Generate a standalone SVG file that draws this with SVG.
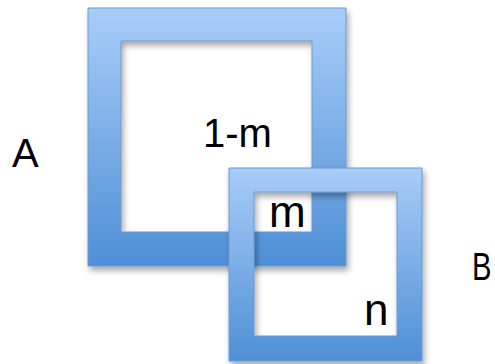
<svg xmlns="http://www.w3.org/2000/svg" width="495" height="364" viewBox="0 0 495 364">
  <defs>
    <linearGradient id="blueGrad" x1="0" y1="0" x2="0" y2="1">
      <stop offset="0" stop-color="#a8cdf8"/>
      <stop offset="1" stop-color="#4f8fd6"/>
    </linearGradient>
    <filter id="shadow" x="-10%" y="-10%" width="125%" height="125%">
      <feDropShadow dx="2" dy="4" stdDeviation="3" flood-color="#000" flood-opacity="0.35"/>
    </filter>
  </defs>
  <style>
    .frame { fill: url(#blueGrad); fill-rule: evenodd; stroke: #6a9ad2; stroke-width: 1; filter: url(#shadow); }
    .lbl { font-family: "Liberation Sans", Arial, sans-serif; fill: #000; }
  </style>
  <rect width="495" height="364" fill="#fff"/>
  <g id="squareA">
    <path class="frame" d="M88,8 H346 V266 H88 Z M121,41 V232 H312 V41 Z"/>
  </g>
  <g id="squareB">
    <path class="frame" d="M229,168 H422 V361 H229 Z M254,192 V336 H397 V192 Z"/>
  </g>
  <g id="connectors"></g>
  <g id="labels">
    <text class="lbl" x="12" y="167" font-size="40">A</text>
    <text class="lbl" x="203" y="147" font-size="40">1-m</text>
    <text class="lbl" x="269" y="227" font-size="44">m</text>
    <text class="lbl" x="364" y="324.5" font-size="44">n</text>
    <text class="lbl" transform="translate(472,280) scale(0.75,1)" x="0" y="0" font-size="39">B</text>
  </g>
</svg>
